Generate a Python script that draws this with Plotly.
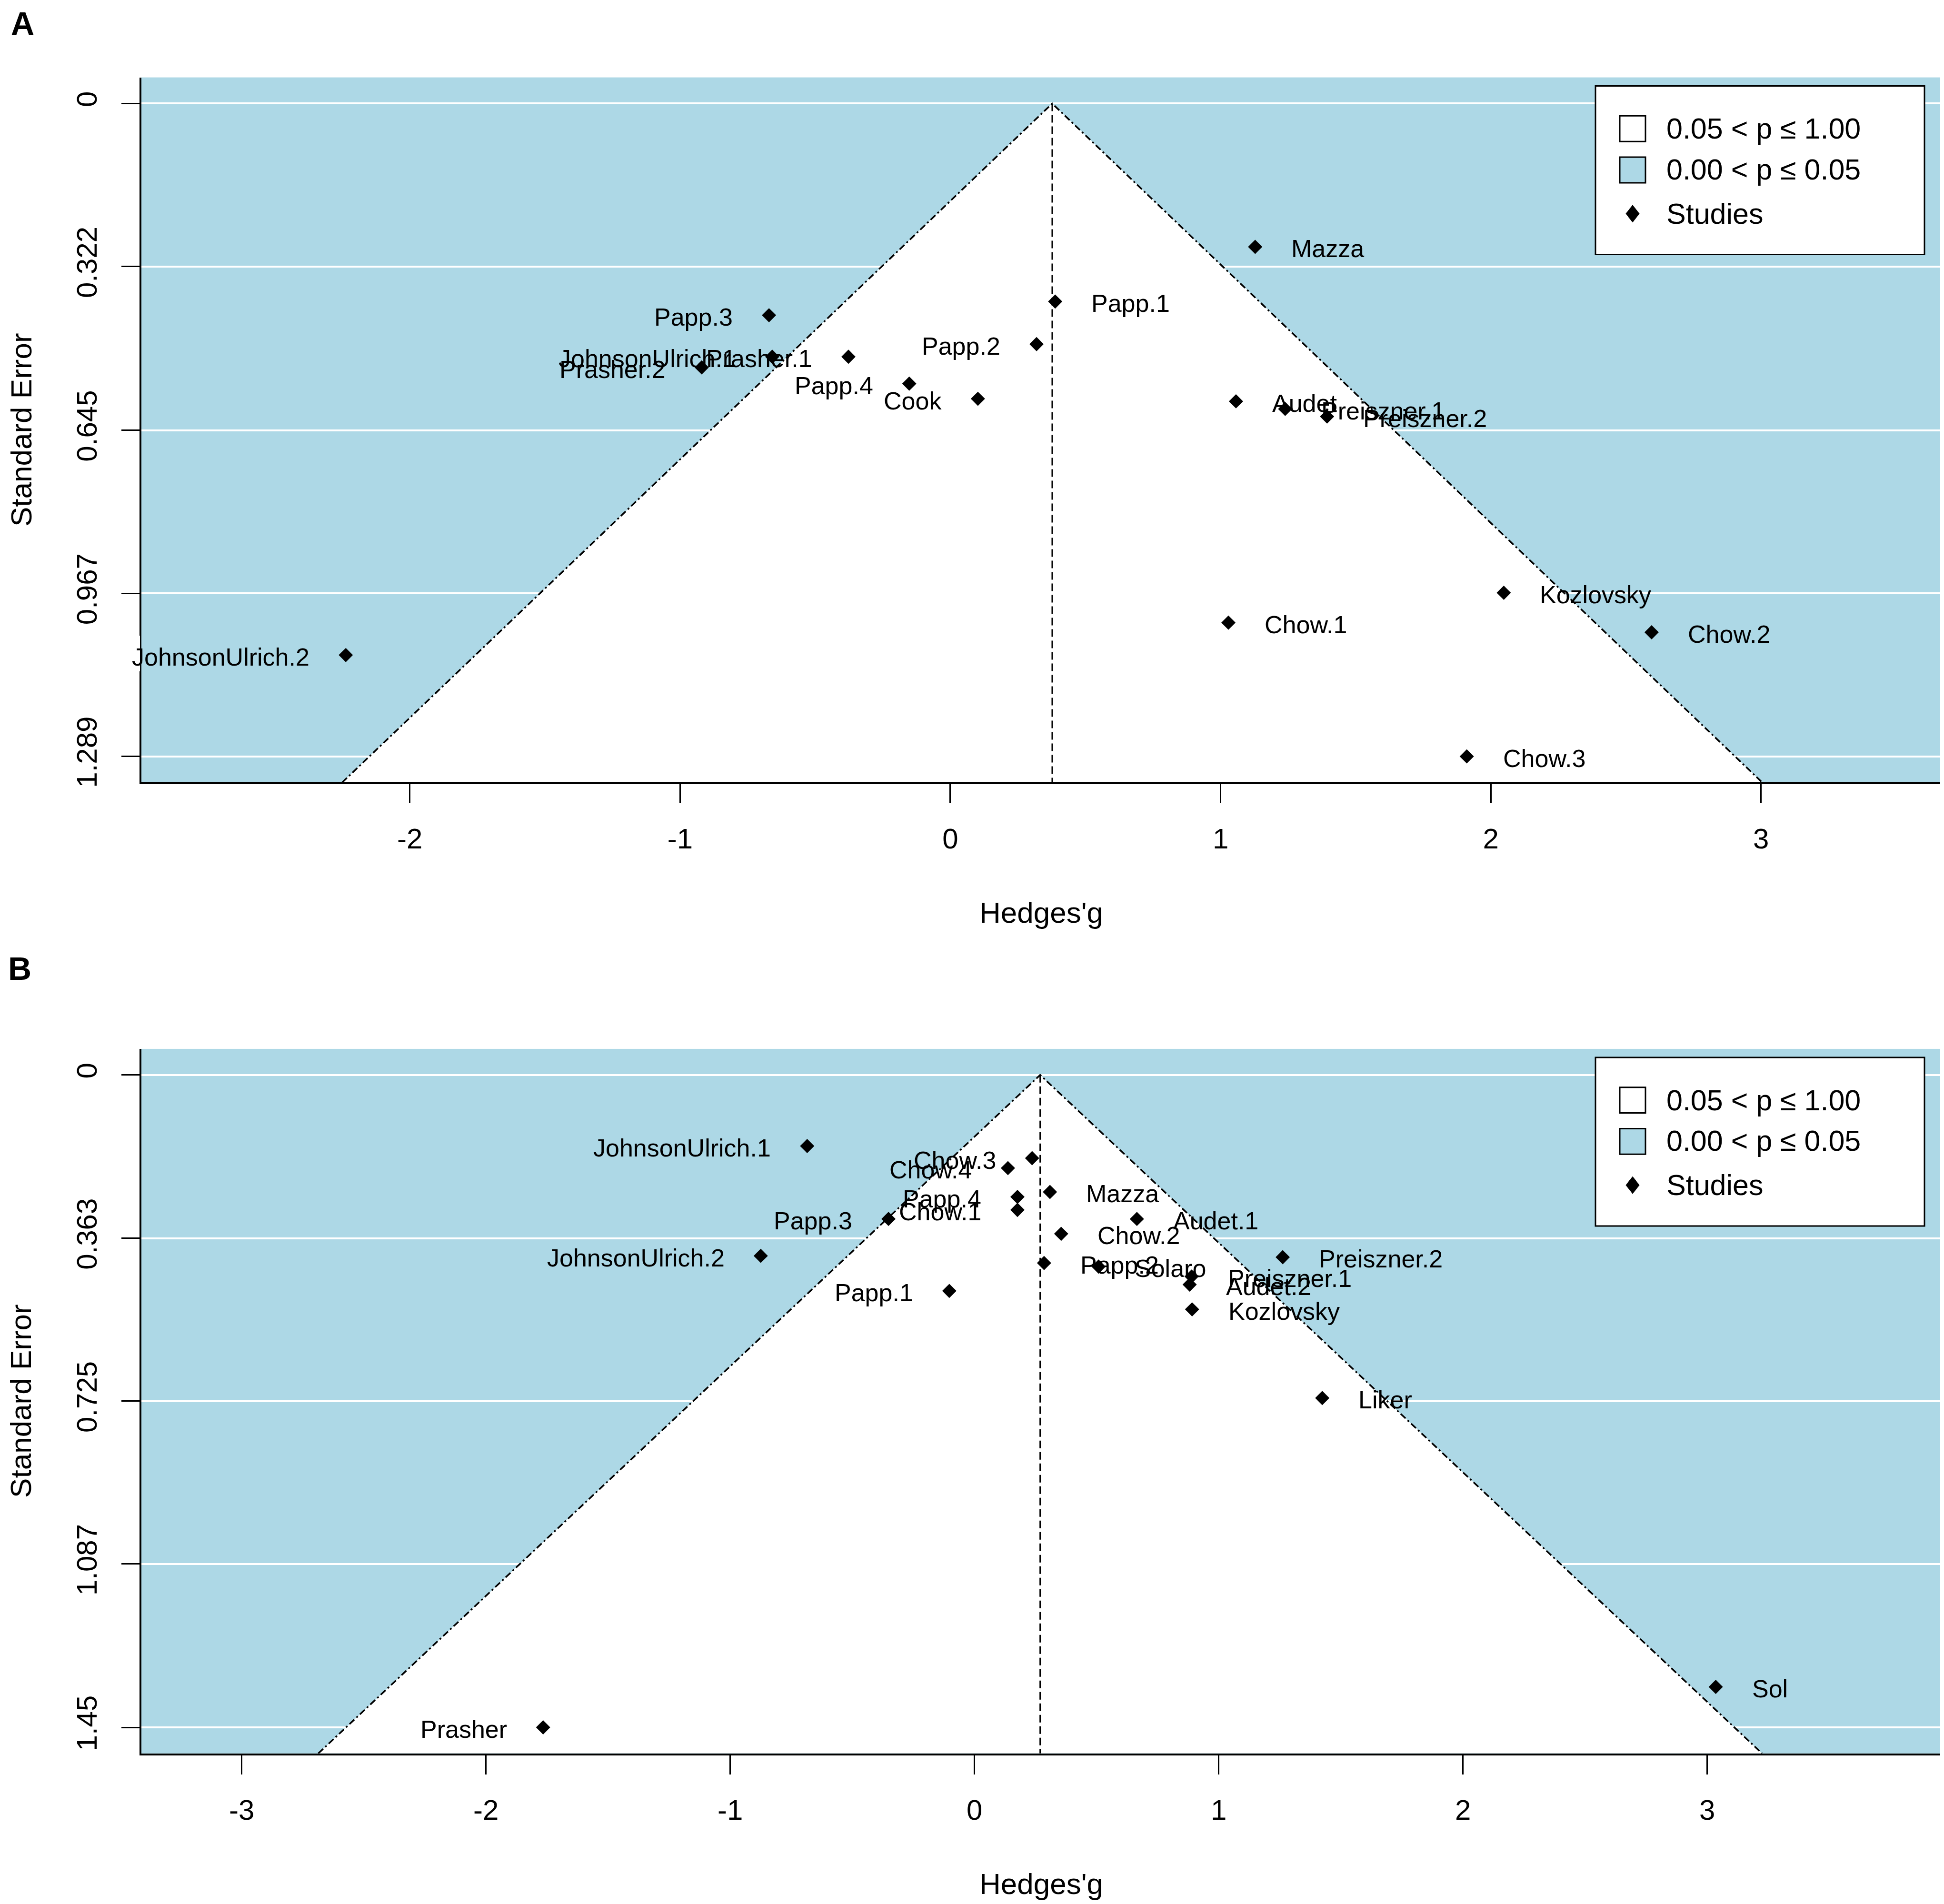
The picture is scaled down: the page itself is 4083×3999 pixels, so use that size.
import plotly.graph_objects as go

W, H = 4083, 3999
OFFX, OFFY = 8, 4  # page body margin compensation
FONT = "Liberation Sans, Arial, sans-serif"
BLUE = "#ADD8E6"

# ---------------- Panel A data ----------------
a_names = ["Papp.1", "Papp.2", "Papp.3", "Papp.4", "JohnsonUlrich.1", "JohnsonUlrich.2",
           "Prasher.1", "Prasher.2", "Cook", "Mazza", "Audet", "Preiszner.1",
           "Preiszner.2", "Kozlovsky", "Chow.1", "Chow.2", "Chow.3"]
a_g = [0.388, 0.319, -0.671, -0.152, -0.659, -2.237,
       -0.377, -0.920, 0.102, 1.128, 1.057, 1.239,
       1.394, 2.048, 1.029, 2.595, 1.911]
a_se = [0.391, 0.475, 0.418, 0.553, 0.500, 1.089,
        0.500, 0.521, 0.583, 0.283, 0.588, 0.603,
        0.618, 0.966, 1.025, 1.044, 1.289]
a_center = 0.377
a_yticks = [0, 0.322, 0.645, 0.967, 1.289]
a_xticks = [-2, -1, 0, 1, 2, 3]

# ---------------- Panel B data ----------------
b_names = ["JohnsonUlrich.1", "Chow.3", "Chow.4", "Papp.4", "Chow.1", "Papp.3",
           "JohnsonUlrich.2", "Papp.1", "Prasher", "Mazza", "Audet.1", "Chow.2",
           "Papp.2", "Solaro", "Preiszner.1", "Audet.2", "Kozlovsky", "Preiszner.2",
           "Liker", "Sol"]
b_g = [-0.685, 0.236, 0.137, 0.176, 0.176, -0.352,
       -0.875, -0.103, -1.766, 0.309, 0.665, 0.355,
       0.285, 0.508, 0.889, 0.881, 0.891, 1.262,
       1.424, 3.035]
b_se = [0.158, 0.185, 0.207, 0.271, 0.300, 0.320,
        0.402, 0.480, 1.450, 0.260, 0.320, 0.353,
        0.418, 0.426, 0.448, 0.466, 0.521, 0.405,
        0.718, 1.360]
b_center = 0.269
b_yticks = [0, 0.363, 0.725, 1.087, 1.45]
b_xticks = [-3, -2, -1, 0, 1, 2, 3]

legend_labels = ["0.05 < p \u2264 1.00", "0.00 < p \u2264 0.05", "Studies"]

FW, FH = W - 8, H - 8


def pxx(x):
    return (x - OFFX) / FW


def pyy(y):
    return 1 - (y - OFFY) / FH


PLOT_L, PLOT_R = 297, 4076
panels = [
    dict(names=a_names, g=a_g, se=a_se, c=a_center, yt=a_yticks, xt=a_xticks,
         top=159, bot=1644, xr=[-2.9933, 3.6646], letter="A", letter_xy=(47, 45), ax=""),
    dict(names=b_names, g=b_g, se=b_se, c=b_center, yt=b_yticks, xt=b_xticks,
         top=2205, bot=3689, xr=[-3.4107, 3.9558], letter="B", letter_xy=(41, 2036), ax="2"),
]

fig = go.Figure()
annotations = []
shapes = []
layout = {}

for p in panels:
    ymax = max(p["yt"]) * 1.04
    ymin = -max(p["yt"]) * 0.04
    xa, ya = "x" + p["ax"], "y" + p["ax"]
    c = p["c"]
    z = 1.96
    # white (non-significant) funnel region
    fig.add_trace(go.Scatter(
        x=[c - z * ymax, c, c + z * ymax], y=[ymax, 0, ymax], fill="toself",
        fillcolor="white", line=dict(width=0), mode="lines", hoverinfo="skip",
        showlegend=False, xaxis=xa, yaxis=ya))
    # pseudo-confidence limits
    fig.add_trace(go.Scatter(
        x=[c - z * ymax, c, c + z * ymax], y=[ymax, 0, ymax], mode="lines",
        line=dict(color="black", width=3.5, dash="14px,6px,4px,6px"),
        hoverinfo="skip", showlegend=False, xaxis=xa, yaxis=ya))
    # reference line
    fig.add_trace(go.Scatter(
        x=[c, c], y=[0, ymax], mode="lines",
        line=dict(color="black", width=3, dash="16px,8px"),
        hoverinfo="skip", showlegend=False, xaxis=xa, yaxis=ya))
    # studies
    fig.add_trace(go.Scatter(
        x=p["g"], y=p["se"], mode="markers",
        marker=dict(symbol="diamond", size=23, color="black"),
        showlegend=False, xaxis=xa, yaxis=ya))
    for n, gv, sv in zip(p["names"], p["g"], p["se"]):
        left = gv < c
        annotations.append(dict(
            x=gv, y=sv, xref=xa, yref=ya, text=n, showarrow=False,
            xanchor="right" if left else "left", yanchor="middle",
            xshift=-74 if left else 74, yshift=-4,
            font=dict(family=FONT, size=52, color="black")))

    dom_y = [pyy(p["bot"]), pyy(p["top"])]
    layout["xaxis" + p["ax"]] = dict(
        domain=[pxx(PLOT_L), pxx(PLOT_R)], range=p["xr"], anchor=ya,
        tickvals=p["xt"], ticktext=[str(t) for t in p["xt"]],
        ticks="outside", ticklen=40, tickwidth=3, tickcolor="black",
        showline=True, linewidth=4, linecolor="black", showgrid=False,
        zeroline=False, ticklabelstandoff=23,
        tickfont=dict(family=FONT, size=60, color="black"))
    layout["yaxis" + p["ax"]] = dict(
        domain=dom_y, range=[ymax, ymin], anchor=xa,
        tickvals=p["yt"], ticktext=[f"{t:g}" for t in p["yt"]],
        ticks="outside", ticklen=38, tickwidth=3, tickcolor="black",
        showline=True, linewidth=4, linecolor="black",
        showgrid=True, gridcolor="white", gridwidth=4,
        zeroline=False, tickangle=-90, ticklabelstandoff=28,
        tickfont=dict(family=FONT, size=60, color="black"))

    # axis titles
    annotations.append(dict(
        x=pxx((PLOT_L + PLOT_R) / 2), y=pyy(p["bot"] + 274), xref="paper", yref="paper",
        text="Hedges'g", showarrow=False, xanchor="center", yanchor="middle",
        font=dict(family=FONT, size=62, color="black")))
    annotations.append(dict(
        x=pxx(44), y=pyy((p["top"] + p["bot"]) / 2), xref="paper", yref="paper",
        text="Standard Error", showarrow=False, textangle=-90,
        xanchor="center", yanchor="middle",
        font=dict(family=FONT, size=62, color="black")))
    # panel letter
    annotations.append(dict(
        x=pxx(p["letter_xy"][0]), y=pyy(p["letter_xy"][1]), xref="paper", yref="paper",
        text="<b>" + p["letter"] + "</b>", showarrow=False,
        xanchor="center", yanchor="middle",
        font=dict(family=FONT, size=68, color="black")))

    # legend box (drawn manually)
    off = p["top"] - 159
    shapes.append(dict(type="rect", xref="paper", yref="paper",
                       x0=pxx(3351), x1=pxx(4042), y0=pyy(177 + off), y1=pyy(532 + off),
                       line=dict(color="black", width=3), fillcolor="white", layer="above"))
    for yc, fc in [(267, "white"), (354, BLUE)]:
        shapes.append(dict(type="rect", xref="paper", yref="paper",
                           x0=pxx(3402), x1=pxx(3456), y0=pyy(yc - 27 + off), y1=pyy(yc + 27 + off),
                           line=dict(color="black", width=3), fillcolor=fc, layer="above"))
    dx, cy = 3429, 446 + off
    shapes.append(dict(type="path", xref="paper", yref="paper",
                       path=f"M {pxx(dx)},{pyy(cy - 18)} L {pxx(dx + 14)},{pyy(cy)} "
                            f"L {pxx(dx)},{pyy(cy + 18)} L {pxx(dx - 14)},{pyy(cy)} Z",
                       line=dict(color="black", width=1), fillcolor="black", layer="above"))
    for lab, yc in zip(legend_labels, [267, 353, 446]):
        annotations.append(dict(
            x=pxx(3498), y=pyy(yc + off), xref="paper", yref="paper", text=lab,
            showarrow=False, xanchor="left", yanchor="middle",
            font=dict(family=FONT, size=61, color="black")))

# label text is clipped at the plot edge in the original (JohnsonUlrich.2 in panel A)
shapes.append(dict(type="rect", xref="paper", yref="paper",
                   x0=pxx(240), x1=pxx(294), y0=pyy(1410), y1=pyy(1335),
                   line=dict(width=0), fillcolor="white", layer="above"))

fig.update_layout(
    width=FW, height=FH, margin=dict(l=0, r=0, t=0, b=0),
    paper_bgcolor="white", plot_bgcolor=BLUE, showlegend=False,
    annotations=annotations, shapes=shapes, **layout)

fig.write_html("out.html")
